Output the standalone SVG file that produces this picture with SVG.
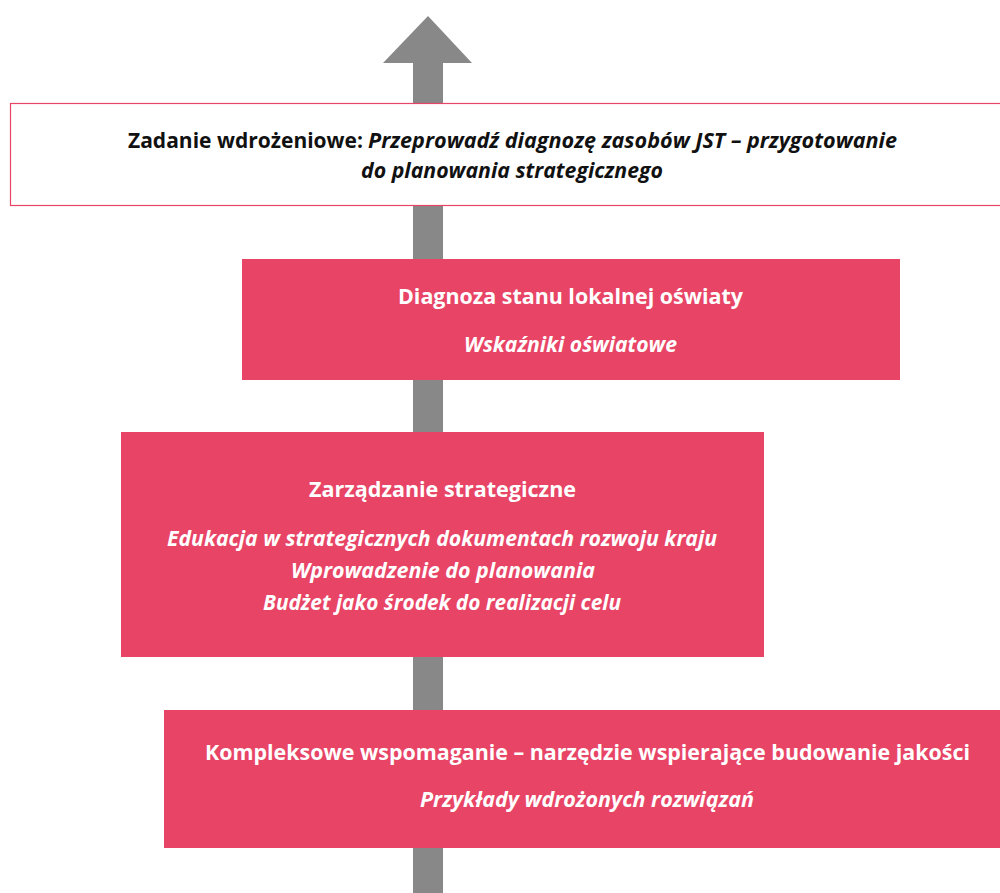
<svg xmlns="http://www.w3.org/2000/svg" width="1000" height="893" viewBox="0 0 1000 893">
<style>
.box{fill:#E84466;}
.t{font-family:"Open Sans","Liberation Sans",sans-serif;font-size:21px;font-weight:bold;}
.w{fill:#ffffff;}
.k{fill:#111111;}
.i{font-style:italic;}
</style>
<rect width="1000" height="893" fill="#ffffff"/>
<g id="connectors">
<rect x="413" y="62" width="30" height="831" fill="#888888"/>
<polygon points="428,16 472,63 383,63" fill="#888888"/>
</g>
<g id="node-task">
<rect x="10.5" y="103.5" width="992" height="102" fill="#ffffff" stroke="#E84466" stroke-width="1.2"/>
<text class="t k" x="128" y="148" textLength="235" lengthAdjust="spacingAndGlyphs">Zadanie wdrożeniowe:</text>
<text class="t k i" x="368" y="148" textLength="529" lengthAdjust="spacingAndGlyphs">Przeprowadź diagnozę zasobów JST – przygotowanie</text>
<text class="t k i" x="512" y="178" text-anchor="middle" textLength="302" lengthAdjust="spacingAndGlyphs">do planowania strategicznego</text>
</g>
<g id="node-diagnoza">
<rect class="box" x="242" y="259" width="658" height="121"/>
<text class="t w" x="570.5" y="304" text-anchor="middle" textLength="345" lengthAdjust="spacingAndGlyphs">Diagnoza stanu lokalnej oświaty</text>
<text class="t w i" x="570.5" y="352" text-anchor="middle" textLength="213" lengthAdjust="spacingAndGlyphs">Wskaźniki oświatowe</text>
</g>
<g id="node-zarzadzanie">
<rect class="box" x="121" y="432" width="643" height="225"/>
<text class="t w" x="442.5" y="497" text-anchor="middle" textLength="267" lengthAdjust="spacingAndGlyphs">Zarządzanie strategiczne</text>
<text class="t w i" x="442" y="546" text-anchor="middle" textLength="550" lengthAdjust="spacingAndGlyphs">Edukacja w strategicznych dokumentach rozwoju kraju</text>
<text class="t w i" x="443" y="578" text-anchor="middle" textLength="304" lengthAdjust="spacingAndGlyphs">Wprowadzenie do planowania</text>
<text class="t w i" x="442" y="610" text-anchor="middle" textLength="358" lengthAdjust="spacingAndGlyphs">Budżet jako środek do realizacji celu</text>
</g>
<g id="node-wspomaganie">
<rect class="box" x="164" y="710" width="836" height="138"/>
<text class="t w" x="587.5" y="760" text-anchor="middle" textLength="765" lengthAdjust="spacingAndGlyphs">Kompleksowe wspomaganie – narzędzie wspierające budowanie jakości</text>
<text class="t w i" x="587" y="807" text-anchor="middle" textLength="334" lengthAdjust="spacingAndGlyphs">Przykłady wdrożonych rozwiązań</text>
</g>
</svg>
